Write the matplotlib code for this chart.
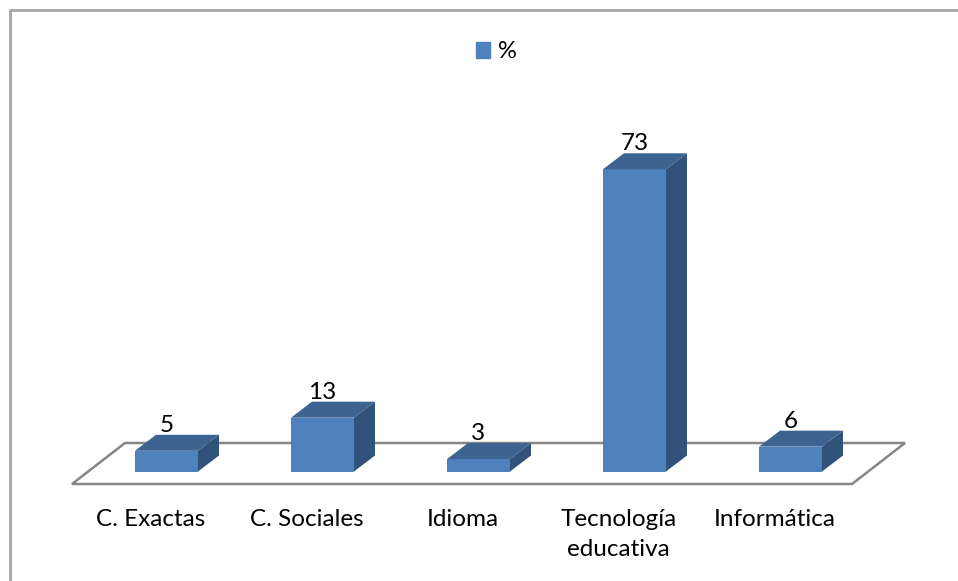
import matplotlib
matplotlib.use("Agg")
import matplotlib.pyplot as plt
from matplotlib.patches import Polygon, Patch

# ---- data ----
categories = ["C. Exactas", "C. Sociales", "Idioma", "Tecnología\neducativa", "Informática"]
values = [5, 13, 3, 73, 6]
series_name = "%"

# ---- pixel geometry of the fake 3D ----
W, H = 958, 581
X0, STEP = 166.5, 156.0      # px centre of the first bar, px between bars
Y0, PER_UNIT = 471.5, 4.14   # px of the value 0, px per unit
BAR_W = 63 / STEP
DX, DY = 21 / STEP, 16 / PER_UNIT   # depth of the boxes in data units

FRONT, TOP, SIDE = "#4f81bd", "#3d6390", "#31527a"
GRID = "#868686"

plt.rcParams["font.family"] = ["Lato", "DejaVu Sans"]

fig = plt.figure(figsize=(W / 100, H / 100), dpi=100)
ax = fig.add_axes([0, 0, 1, 1])
ax.set_xlim(-X0 / STEP, (W - X0) / STEP)
ax.set_ylim((Y0 - H) / PER_UNIT, Y0 / PER_UNIT)
ax.axis("off")

# ---- floor ----
fx = lambda px: (px - X0) / STEP
fy = lambda py: (Y0 - py) / PER_UNIT
floor = [(fx(72), fy(484)), (fx(125), fy(443)), (fx(905), fy(443)), (fx(852), fy(484))]
ax.add_patch(Polygon(floor, closed=True, fc="white", ec=GRID, lw=1.8, zorder=1))

# ---- boxes ----
xs = list(range(len(values)))
ax.bar(xs, values, width=BAR_W, color=FRONT, zorder=3)
for x, v in zip(xs, values):
    l, r = x - BAR_W / 2, x + BAR_W / 2
    ax.add_patch(Polygon([(l, v), (r, v), (r + DX, v + DY), (l + DX, v + DY)], fc=TOP, ec="none", zorder=3))
    ax.add_patch(Polygon([(r, 0), (r + DX, DY), (r + DX, v + DY), (r, v)], fc=SIDE, ec="none", zorder=3))
    ax.text(x, v + 15 / PER_UNIT, str(v), ha="center", va="bottom", fontsize=17.5, color="black", zorder=4)

# ---- category labels, centred on the front edge of the floor ----
for x, name in zip(xs, categories):
    ax.text(x - 16 / STEP, fy(508.5), name, ha="center", va="top", fontsize=17.5, color="black", linespacing=1.58)

# ---- frame: only left and top are in the picture ----
ax.plot([fx(10), fx(10), fx(W)], [fy(H), fy(10), fy(10)], color="#a6a6a6", lw=2, zorder=0, clip_on=False)

# ---- legend ----
ax.legend(handles=[Patch(color=FRONT, label=series_name)], loc="center", bbox_to_anchor=(496 / W, 1 - 52 / H),
          frameon=False, fontsize=17, handlelength=0.63, handleheight=0.63, handletextpad=0.3)

fig.savefig("out.png", dpi=100)
